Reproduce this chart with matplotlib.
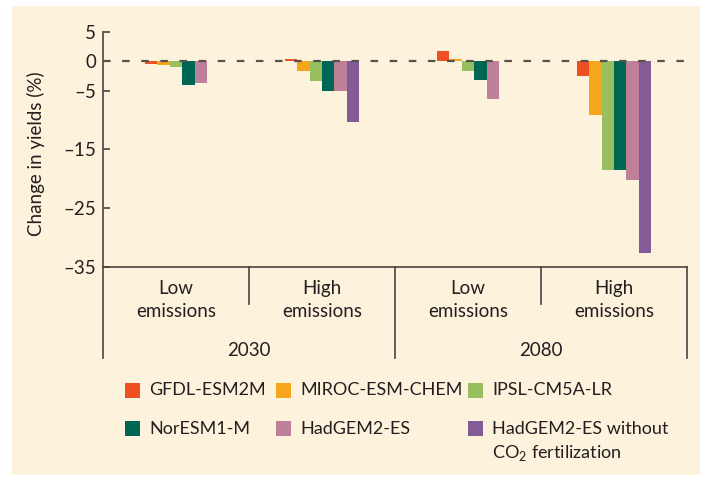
import matplotlib
matplotlib.use("Agg")
import matplotlib.pyplot as plt
from matplotlib.patches import Rectangle
from matplotlib.lines import Line2D

plt.rcParams['font.family'] = ['Lato', 'DejaVu Sans']
plt.rcParams['mathtext.fontset'] = 'custom'
plt.rcParams['mathtext.rm'] = 'Lato'

# ---------------- data ----------------
scenarios = ["Low\nemissions", "High\nemissions", "Low\nemissions", "High\nemissions"]
years = ["2030", "2080"]
series_names = ["GFDL-ESM2M", "MIROC-ESM-CHEM", "IPSL-CM5A-LR",
                "NorESM1-M", "HadGEM2-ES", "HadGEM2-ES without"]
gfdl = [-0.4, 0.4, 1.8, -2.5]
miroc = [-0.6, -1.6, 0.4, -9.1]
ipsl = [-0.9, -3.3, -1.7, -18.6]
noresm = [-4.0, -5.1, -3.2, -18.6]
hadgem = [-3.7, -5.1, -6.5, -20.2]
hadgem_noco2 = [None, -10.3, None, -32.6]
yticks = [5, 0, -5, -15, -25, -35]
ytick_labels = ["5", "0", "\u20135", "\u201315", "\u201325", "\u201335"]

colors = ["#F04E23", "#F7A51C", "#97BE5F", "#006654", "#BD8098", "#845C95"]
all_series = [gfdl, miroc, ipsl, noresm, hadgem, hadgem_noco2]

W, H = 703, 482
fig = plt.figure(figsize=(W / 100, H / 100), dpi=100)
fig.patch.set_facecolor("white")

def fx(px):
    return px / W

def fy(py):
    return 1 - py / H

# cream background panel
fig.add_artist(Rectangle((fx(12), fy(475)), (700 - 12) / W, (475 - 6) / H,
                         transform=fig.transFigure, facecolor="#FDF2DC",
                         edgecolor="none", zorder=0))

ax_top, ax_bot = 32.0, 266.7
ax = fig.add_axes([fx(103), fy(ax_bot), (687 - 103) / W, (ax_bot - ax_top) / H])
ax.set_facecolor("none")
ax.set_xlim(-0.5, 3.5)
ax.set_ylim(-35, 5)

bw = 0.085
for g in range(len(scenarios)):
    present = [(k, s[g]) for k, s in enumerate(all_series) if s[g] is not None]
    n = len(present)
    for j, (k, v) in enumerate(present):
        x = g + (j - (n - 1) / 2) * bw
        ax.bar(x, v, width=bw, color=colors[k], linewidth=0, zorder=2)

ax.axhline(0, color="#57524c", lw=1.6, linestyle=(0, (3.4, 5.2)), zorder=3)

axis_col = "#4a4540"
for s in ["top", "right"]:
    ax.spines[s].set_visible(False)
for s in ["left", "bottom"]:
    ax.spines[s].set_color(axis_col)
    ax.spines[s].set_linewidth(1.2)

ax.set_yticks(yticks)
ax.set_yticklabels(ytick_labels)
ax.tick_params(axis="y", direction="in", length=5, width=1.2, color=axis_col,
               labelsize=13.5, pad=5, labelcolor="#231f20")
ax.set_xticks([])
ax.set_ylabel("Change in yields (%)", fontsize=13.5, color="#231f20")
ax.yaxis.set_label_coords((45 - 103) / 584, (ax_bot - 154) / (ax_bot - ax_top))

# category dividers and labels
tr = ax.get_xaxis_transform()
hpx = ax_bot - ax_top
short_end = -(304 - ax_bot) / hpx
long_end = -(357.7 - ax_bot) / hpx
for xb in [-0.5, 1.5, 3.5]:
    ax.add_line(Line2D([xb, xb], [0, long_end], transform=tr, color=axis_col,
                       lw=1.2, clip_on=False))
for xb in [0.5, 2.5]:
    ax.add_line(Line2D([xb, xb], [0, short_end], transform=tr, color=axis_col,
                       lw=1.2, clip_on=False))
for g, lab in enumerate(scenarios):
    ax.text(g, -(300 - ax_bot) / hpx, lab, transform=tr, ha="center", va="center",
            fontsize=13.5, linespacing=1.4, color="#231f20")
for i, yr in enumerate(years):
    ax.text(0.5 + 2 * i, -(350.7 - ax_bot) / hpx, yr, transform=tr, ha="center",
            va="center", fontsize=13.5, color="#231f20")

# legend (manual, row-major)
col_sq = [125, 276, 468]
row_y = [390, 428.5]
sq = 15
for k, name in enumerate(series_names):
    r, c = divmod(k, 3)
    x0, yc = col_sq[c], row_y[r]
    fig.add_artist(Rectangle((fx(x0), fy(yc + sq / 2)), sq / W, sq / H,
                             transform=fig.transFigure, facecolor=colors[k],
                             edgecolor="none"))
    fig.text(fx(x0 + 24), fy(yc), name, ha="left", va="center", fontsize=13,
             color="#231f20")
fig.text(fx(col_sq[2] + 24), fy(453), "CO$_\\mathregular{2}$ fertilization",
         ha="left", va="center", fontsize=13, color="#231f20")

fig.savefig("out.png", dpi=100, facecolor=fig.get_facecolor())
